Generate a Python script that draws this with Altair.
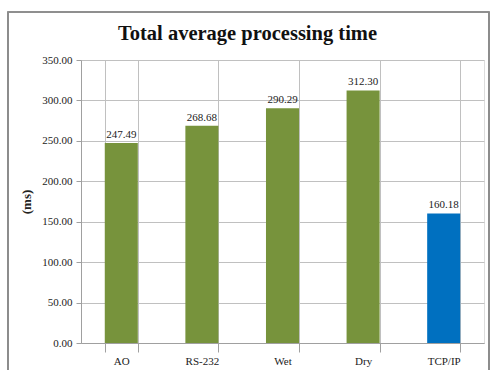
import altair as alt
import pandas as pd

categories = ["AO", "RS-232", "Wet", "Dry", "TCP/IP"]
values = [247.49, 268.68, 290.29, 312.30, 160.18]
colors = ["#77933C", "#77933C", "#77933C", "#77933C", "#0070C0"]

df = pd.DataFrame({"cat": categories, "val": values, "col": colors})
df["label"] = df["val"].map(lambda v: f"{v:.2f}")

FONT = "Liberation Serif"

x = alt.X("cat:N", sort=categories, title=None,
          scale=alt.Scale(paddingInner=0.59, paddingOuter=0.295),
          axis=alt.Axis(tickBand="extent", labelAngle=0, grid=True,
                        gridColor="#c0c0c0", domainColor="#a0a0a0",
                        tickColor="#a0a0a0", tickSize=9, labelPadding=3,
                        labelFont=FONT, labelFontSize=11, labelColor="#222222"))
y = alt.Y("val:Q", title="(ms)",
          scale=alt.Scale(domain=[0, 350]),
          axis=alt.Axis(values=[0, 50, 100, 150, 200, 250, 300, 350], format=".2f",
                        gridColor="#c0c0c0", domainColor="#a0a0a0",
                        tickColor="#a0a0a0", tickSize=5, labelPadding=4,
                        labelFont=FONT, labelFontSize=11, labelColor="#222222",
                        titleFont=FONT, titleFontSize=13, titleFontWeight="bold",
                        titleColor="#222222", titlePadding=8))

bars = alt.Chart(df).mark_bar().encode(
    x=x, y=y, color=alt.Color("col:N", scale=None)
)
text = alt.Chart(df).mark_text(baseline="bottom", dy=-3, font=FONT, fontSize=11,
                               color="#222222").encode(
    x=alt.X("cat:N", sort=categories), y="val:Q", text="label:N"
)
border = alt.Chart(df).mark_rect(fill=None, stroke="#8c8c8c", strokeWidth=1.2).encode(
    x=alt.value(-73), x2=alt.value(408), y=alt.value(-48), y2=alt.value(330)
)

chart = alt.layer(border, bars, text).properties(
    width=403, height=283,
    title=alt.TitleParams("Total average processing time", font=FONT, fontSize=20.5,
                          fontWeight="bold", color="#111111", anchor="middle",
                          frame="group", dx=-35, offset=-33),
    autosize=alt.AutoSizeParams(type="none"),
    padding={"left": 81, "top": 60, "right": 10, "bottom": 27},
).configure_view(stroke="#c0c0c0").configure(background="white")

chart.save("out.html", embed_options={"renderer": "svg", "actions": False})
